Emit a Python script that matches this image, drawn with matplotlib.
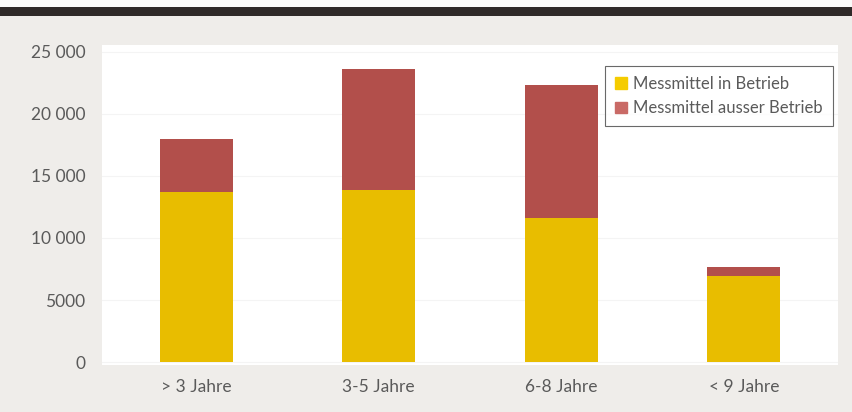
import matplotlib.pyplot as plt
import numpy as np
from matplotlib.patches import Rectangle

# Data
categories = ["> 3 Jahre", "3-5 Jahre", "6-8 Jahre", "< 9 Jahre"]
in_betrieb = [13700, 13900, 11600, 6900]
ausser_betrieb = [4300, 9700, 10700, 800]
y_ticks = [0, 5000, 10000, 15000, 20000, 25000]
y_labels = ["0", "5000", "10 000", "15 000", "20 000", "25 000"]

yellow = "#e8bd00"
red = "#b24f4b"
text_col = "#5a5a5a"

plt.rcParams["font.family"] = ["Lato", "DejaVu Sans"]

fig = plt.figure(figsize=(8.52, 4.12), dpi=100)
fig.patch.set_facecolor("#efedea")

# dark band along the top
fig.patches.append(Rectangle((0, 0.96), 1, 0.022, transform=fig.transFigure,
                             facecolor="#2f2a28", edgecolor="none"))
fig.patches.append(Rectangle((0, 0.982), 1, 0.018, transform=fig.transFigure,
                             facecolor="#fbfbfa", edgecolor="none"))

ax = fig.add_axes([102 / 852, 1 - 365 / 412, 736 / 852, 320 / 412])
ax.set_facecolor("white")

x = np.arange(len(categories))
ax.bar(x, in_betrieb, width=0.4, color=yellow, label="Messmittel in Betrieb", zorder=2)
ax.bar(x, ausser_betrieb, width=0.4, bottom=in_betrieb, color=red,
       label="Messmittel ausser Betrieb", zorder=2)

ax.set_xlim(-0.515, 3.515)
ax.set_ylim(-240, 25560)
ax.set_yticks(y_ticks)
ax.set_yticklabels(y_labels)
ax.set_xticks(x)
ax.set_xticklabels(categories)
ax.tick_params(axis="both", length=0, labelsize=12.5, colors=text_col)
ax.tick_params(axis="y", pad=12)
ax.tick_params(axis="x", pad=10)
ax.grid(axis="y", color="#f4f4f4", linewidth=0.8, zorder=0)
for s in ax.spines.values():
    s.set_visible(False)

handles = [Rectangle((0, 0), 1, 1, color="#f5cc00"),
           Rectangle((0, 0), 1, 1, color="#c96a66")]
leg = ax.legend(handles, ["Messmittel in Betrieb", "Messmittel ausser Betrieb"],
                loc="upper right", bbox_to_anchor=(0.993, 0.934), borderaxespad=0,
                fontsize=12, frameon=True, fancybox=False,
                handlelength=0.7, handleheight=0.7, handletextpad=0.4,
                borderpad=0.6, labelspacing=0.5, labelcolor=text_col)
leg.get_frame().set_edgecolor("#444444")
leg.get_frame().set_linewidth(0.8)

fig.savefig("out.png", dpi=100, facecolor=fig.get_facecolor())
